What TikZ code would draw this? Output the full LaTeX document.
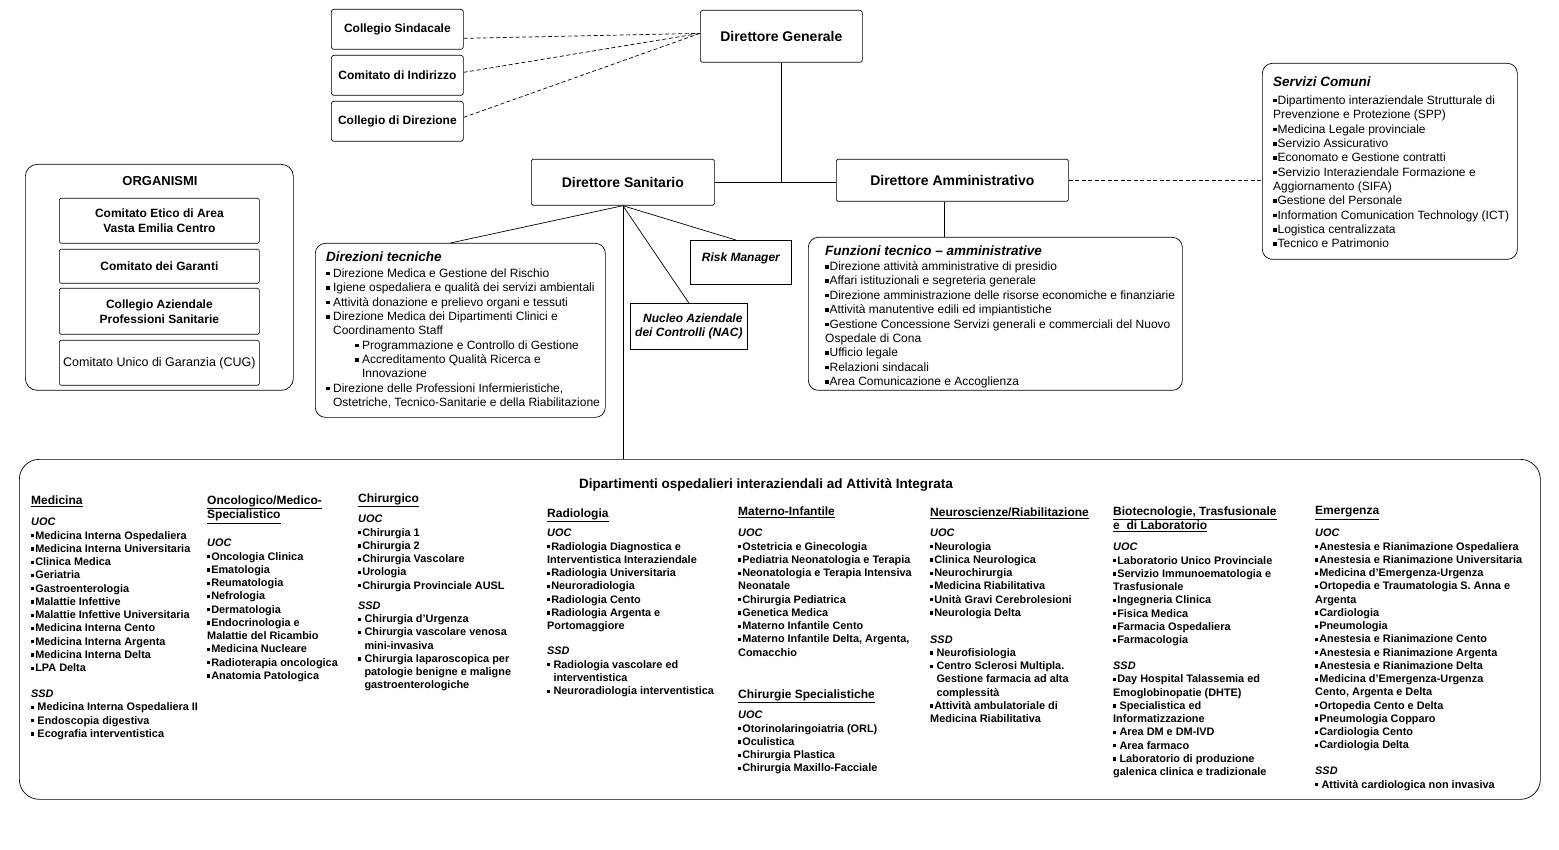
\documentclass[tikz,border=0pt]{standalone}
\usepackage{fontspec}
\setmainfont{Liberation Sans}
\usetikzlibrary{calc}
\newcommand\sq{\raisebox{0.3ex}{\rule{0.3em}{0.3em}}}
\newcommand\bu{\sq\kern0.8pt}
\newcommand\bs{\sq\ }
\newcommand\ind{\hphantom{\sq\ }}
\begin{document}
\begin{tikzpicture}[x=1pt,y=-1pt,
  bx/.style={draw, line width=0.7pt, rounded corners=2.5pt, inner sep=0pt, align=center, anchor=north west},
  rbx/.style={draw, line width=0.7pt, rounded corners=10pt, inner sep=0pt, anchor=north west},
  lbl/.style={font=\fontsize{12}{15}\selectfont\bfseries},
  bigl/.style={font=\fontsize{14}{16}\selectfont\bfseries},
  ttl/.style={font=\fontsize{13.5}{16}\selectfont\bfseries\itshape, anchor=north west, inner sep=0pt},
  lst/.style={font=\fontsize{12}{14.35}\selectfont, anchor=north west, inner sep=0pt, align=left},
  hdr/.style={font=\fontsize{12}{14.5}\selectfont\bfseries, anchor=north west, inner sep=0pt, align=left},
  col/.style={font=\fontsize{10.9}{13.25}\selectfont\bfseries, anchor=north west, inner sep=0pt, align=left},
  conn/.style={line width=0.7pt},
  dconn/.style={line width=0.7pt, dash pattern=on 4pt off 2.5pt},
]
\useasboundingbox (0,0) rectangle (1559,850);

% ---------- top ----------
\node[bx,lbl,minimum width=132pt,minimum height=40pt] (cs) at (331,9) {Collegio Sindacale};
\node[bx,lbl,minimum width=132pt,minimum height=40pt] (ci) at (331,55) {Comitato di Indirizzo};
\node[bx,lbl,minimum width=132pt,minimum height=40pt] (cd) at (331,101) {Collegio di Direzione};
\node[bx,bigl,minimum width=162pt,minimum height=52pt] (dg) at (700,10) {Direttore Generale};
\node[bx,bigl,minimum width=183pt,minimum height=46pt,rounded corners=1.5pt] (ds) at (531,159) {Direttore Sanitario};
\node[bx,bigl,minimum width=232pt,minimum height=42pt,rounded corners=1.5pt] (da) at (836,159) {Direttore Amministrativo};

% ---------- Servizi Comuni ----------
\node[rbx,minimum width=255pt,minimum height=196pt] (sc) at (1262,63) {};
\node[ttl] (sct) at (1273,76.5) {Servizi Comuni};
\node[lst] (scl) at (1273,95.5) {\bu Dipartimento interaziendale Strutturale di\\
Prevenzione e Protezione (SPP)\\
\bu Medicina Legale provinciale\\
\bu Servizio Assicurativo\\
\bu Economato e Gestione contratti\\
\bu Servizio Interaziendale Formazione e\\
Aggiornamento (SIFA)\\
\bu Gestione del Personale\\
\bu Information Comunication Technology (ICT)\\
\bu Logistica centralizzata\\
\bu Tecnico e Patrimonio};

% ---------- Organismi ----------
\node[rbx,rounded corners=12pt,minimum width=268pt,minimum height=226pt] (org) at (25,164) {};
\node[font=\fontsize{13}{15}\selectfont\bfseries] (orgt) at (160,181) {ORGANISMI};
\node[bx,lbl,minimum width=200pt,minimum height=45pt,rounded corners=1.5pt] (ce) at (59,198) {Comitato Etico di Area\\Vasta Emilia Centro};
\node[bx,lbl,minimum width=200pt,minimum height=34pt,rounded corners=1.5pt] (cg) at (59,249) {Comitato dei Garanti};
\node[bx,lbl,minimum width=200pt,minimum height=46pt,rounded corners=1.5pt] (ca) at (59,288) {Collegio Aziendale\\Professioni Sanitarie};
\node[bx,font=\fontsize{12.5}{15}\selectfont,minimum width=200pt,minimum height=45pt,rounded corners=1.5pt] (cug) at (59,340) {Comitato Unico di Garanzia (CUG)};

% ---------- Direzioni tecniche ----------
\node[rbx,minimum width=290pt,minimum height=174pt] (dt) at (315,243) {};
\node[ttl] (dtt) at (326,252) {Direzioni tecniche};
\node[lst] (dtl) at (326,268.5) {\bs Direzione Medica e Gestione del Rischio\\
\bs Igiene ospedaliera e qualità dei servizi ambientali\\
\bs Attività donazione e prelievo organi e tessuti\\
\bs Direzione Medica dei Dipartimenti Clinici e\\
\ind Coordinamento Staff\\
\hspace{29pt}\bs Programmazione e Controllo di Gestione\\
\hspace{29pt}\bs Accreditamento Qualità Ricerca e\\
\hspace{29pt}\ind Innovazione\\
\bs Direzione delle Professioni Infermieristiche,\\
\ind Ostetriche, Tecnico-Sanitarie e della Riabilitazione};

% ---------- Risk Manager / NAC ----------
\node[bx,font=\fontsize{12}{14}\selectfont\bfseries\itshape,text height=9pt,text depth=11pt,minimum width=101pt,minimum height=44pt,rounded corners=0pt] (rm) at (690,240) {Risk Manager};
\node[bx,font=\fontsize{12}{14}\selectfont\bfseries\itshape,align=right,minimum width=117pt,minimum height=46pt,rounded corners=0pt] (nac) at (630,303) {Nucleo Aziendale\\dei Controlli (NAC)};

% ---------- Funzioni tecnico-amministrative ----------
\node[rbx,minimum width=374pt,minimum height=153pt] (fa) at (808,237) {};
\node[ttl] (fat) at (825,245.5) {Funzioni tecnico – amministrative};
\node[lst,font=\fontsize{12}{14.4}\selectfont] (fal) at (825,261.5) {\bu Direzione attività amministrative di presidio\\
\bu Affari istituzionali e segreteria generale\\
\bu Direzione amministrazione delle risorse economiche e finanziarie\\
\bu Attività manutentive edili ed impiantistiche\\
\bu Gestione Concessione Servizi generali e commerciali del Nuovo\\
Ospedale di Cona\\
\bu Ufficio legale\\
\bu Relazioni sindacali\\
\bu Area Comunicazione e Accoglienza};

% ---------- Dipartimenti ----------
\node[rbx,rounded corners=20pt,minimum width=1521pt,minimum height=340pt] (dip) at (19,459) {};
\node[font=\fontsize{13.5}{16}\selectfont\bfseries] (dipt) at (766,485) {Dipartimenti ospedalieri interaziendali ad Attività Integrata};

% Medicina
\node[hdr] (hmed) at (31,495.5) {\underline{Medicina}};
\node[col] (bmed) at (31,518) {\textit{UOC}\\
\bu Medicina Interna Ospedaliera\\
\bu Medicina Interna Universitaria\\
\bu Clinica Medica\\
\bu Geriatria\\
\bu Gastroenterologia\\
\bu Malattie Infettive\\
\bu Malattie Infettive Universitaria\\
\bu Medicina Interna Cento\\
\bu Medicina Interna Argenta\\
\bu Medicina Interna Delta\\
\bu LPA Delta\\[12.8pt]
\textit{SSD}\\
\bs Medicina Interna Ospedaliera II\\
\bs Endoscopia digestiva\\
\bs Ecografia interventistica};

% Oncologico
\node[hdr] (honc) at (207,495.5) {\underline{Oncologico/Medico-}\\\underline{Specialistico}};
\node[col] (bonc) at (207,539) {\textit{UOC}\\
\bu Oncologia Clinica\\
\bu Ematologia\\
\bu Reumatologia\\
\bu Nefrologia\\
\bu Dermatologia\\
\bu Endocrinologia e\\
Malattie del Ricambio\\
\bu Medicina Nucleare\\
\bu Radioterapia oncologica\\
\bu Anatomia Patologica};

% Chirurgico
\node[hdr] (hchi) at (358,493.5) {\underline{Chirurgico}};
\node[col] (bchi) at (358,515) {\textit{UOC}\\
\bu Chirurgia 1\\
\bu Chirurgia 2\\
\bu Chirurgia Vascolare\\
\bu Urologia\\
\bu Chirurgia Provinciale AUSL\\[7pt]
\textit{SSD}\\
\bs Chirurgia d’Urgenza\\
\bs Chirurgia vascolare venosa\\
\ind mini-invasiva\\
\bs Chirurgia laparoscopica per\\
\ind patologie benigne e maligne\\
\ind gastroenterologiche};

% Radiologia
\node[hdr] (hrad) at (547,508.5) {\underline{Radiologia}};
\node[col] (brad) at (547,529) {\textit{UOC}\\
\bu Radiologia Diagnostica e\\
Interventistica Interaziendale\\
\bu Radiologia Universitaria\\
\bu Neuroradiologia\\
\bu Radiologia Cento\\
\bu Radiologia Argenta e\\
Portomaggiore\\[12pt]
\textit{SSD}\\
\bs Radiologia vascolare ed\\
\ind interventistica\\
\bs Neuroradiologia interventistica};

% Materno-Infantile
\node[hdr] (hmat) at (738,506.5) {\underline{Materno-Infantile}};
\node[col] (bmat) at (738,529) {\textit{UOC}\\
\bu Ostetricia e Ginecologia\\
\bu Pediatria Neonatologia e Terapia\\
\bu Neonatologia e Terapia Intensiva\\
Neonatale\\
\bu Chirurgia Pediatrica\\
\bu Genetica Medica\\
\bu Materno Infantile Cento\\
\bu Materno Infantile Delta, Argenta,\\
Comacchio};
\node[hdr] (hcsp) at (738,689.5) {\underline{Chirurgie Specialistiche}};
\node[col] (bcsp) at (738,711) {\textit{UOC}\\
\bu Otorinolaringoiatria (ORL)\\
\bu Oculistica\\
\bu Chirurgia Plastica\\
\bu Chirurgia Maxillo-Facciale};

% Neuroscienze
\node[hdr] (hneu) at (930,507.5) {\underline{Neuroscienze/Riabilitazione}};
\node[col] (bneu) at (930,529) {\textit{UOC}\\
\bu Neurologia\\
\bu Clinica Neurologica\\
\bu Neurochirurgia\\
\bu Medicina Riabilitativa\\
\bu Unità Gravi Cerebrolesioni\\
\bu Neurologia Delta\\[13.5pt]
\textit{SSD}\\
\bs Neurofisiologia\\
\bs Centro Sclerosi Multipla.\\
\ind Gestione farmacia ad alta\\
\ind complessità\\
\bu Attività ambulatoriale di\\
Medicina Riabilitativa};

% Biotecnologie
\node[hdr] (hbio) at (1113,506.5) {\underline{Biotecnologie, Trasfusionale}\\\underline{e\ \ di Laboratorio}};
\node[col] (bbio) at (1113,543) {\textit{UOC}\\
\bu Laboratorio Unico Provinciale\\
\bu Servizio Immunoematologia e\\
Trasfusionale\\
\bu Ingegneria Clinica\\
\bu Fisica Medica\\
\bu Farmacia Ospedaliera\\
\bu Farmacologia\\[12.75pt]
\textit{SSD}\\
\bu Day Hospital Talassemia ed\\
Emoglobinopatie (DHTE)\\
\bs Specialistica ed\\
Informatizzazione\\
\bs Area DM e DM-IVD\\
\bs Area farmaco\\
\bs Laboratorio di produzione\\
galenica clinica e tradizionale};

% Emergenza
\node[hdr] (heme) at (1315,506.5) {\underline{Emergenza}};
\node[col] (beme) at (1315,529) {\textit{UOC}\\
\bu Anestesia e Rianimazione Ospedaliera\\
\bu Anestesia e Rianimazione Universitaria\\
\bu Medicina d’Emergenza-Urgenza\\
\bu Ortopedia e Traumatologia S. Anna e\\
Argenta\\
\bu Cardiologia\\
\bu Pneumologia\\
\bu Anestesia e Rianimazione Cento\\
\bu Anestesia e Rianimazione Argenta\\
\bu Anestesia e Rianimazione Delta\\
\bu Medicina d’Emergenza-Urgenza\\
Cento, Argenta e Delta\\
\bu Ortopedia Cento e Delta\\
\bu Pneumologia Copparo\\
\bu Cardiologia Cento\\
\bu Cardiologia Delta\\[12.75pt]
\textit{SSD}\\
\bs Attività cardiologica non invasiva};

% ---------- connectors ----------
\draw[dconn] ($(cs.east)+(0,9)$) -- ($(dg.west)+(0,-3)$);
\draw[dconn] ($(ci.east)+(0,-3)$) -- ($(dg.west)+(0,-3)$);
\draw[dconn] ($(cd.east)+(0,-4)$) -- ($(dg.west)+(0,-3)$);
\draw[conn] (dg.south) -- (dg.south |- ds.east);
\draw[conn] (ds.east) -- (ds.east -| da.west);
\draw[dconn] (da.east) -- (da.east -| sc.west);
\draw[conn] ([xshift=-8pt]da.south) -- ([xshift=-8pt]da.south |- fa.north);
\draw[conn] (ds.south) -- ([xshift=-10pt]dt.north);
\draw[conn] (ds.south) -- ([xshift=-5pt]rm.north);
\draw[conn] (ds.south) -- (nac.north);
\draw[conn] (ds.south) -- (ds.south |- dip.north);
\end{tikzpicture}
\end{document}
